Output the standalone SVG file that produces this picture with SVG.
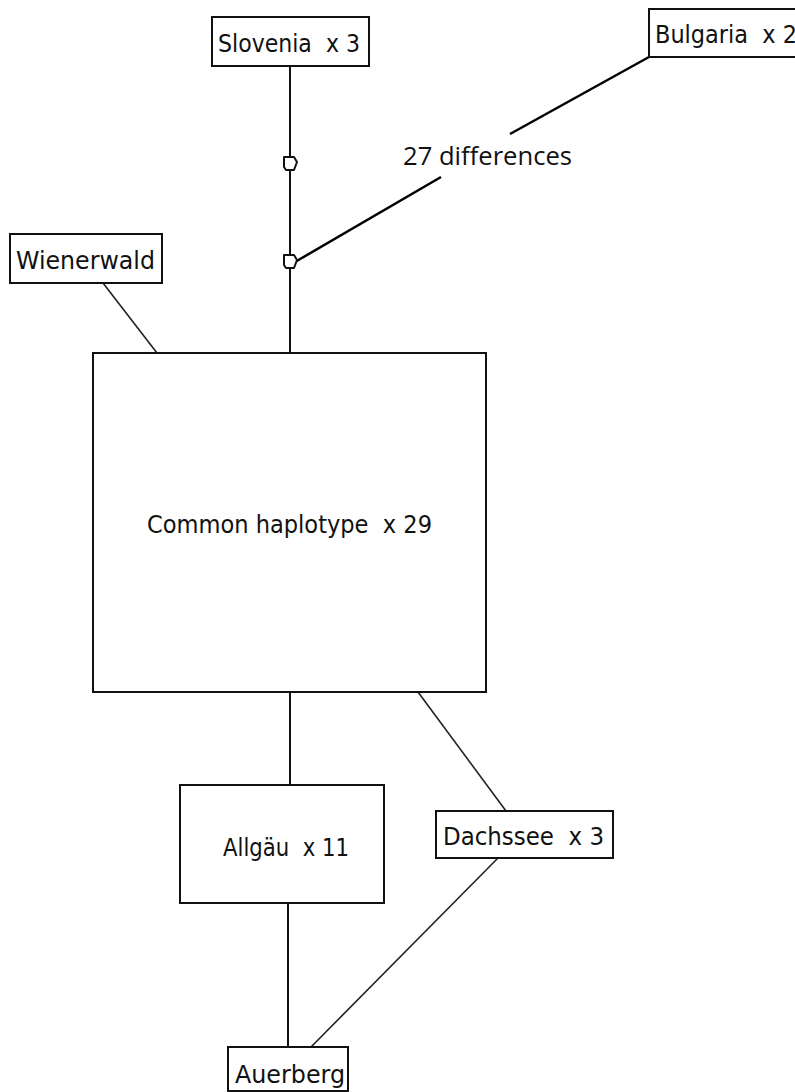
<svg xmlns="http://www.w3.org/2000/svg" width="795" height="1092" viewBox="0 0 795 1092">
<style>
.box{fill:#fff;stroke:#111;stroke-width:2}
.lbl{font-family:"DejaVu Sans",Verdana,sans-serif;font-size:24px;fill:#111;white-space:pre}
.edge{stroke:#111;stroke-width:2;fill:none}
.bold{stroke:#000;stroke-width:2.5;fill:none}
.thin{stroke:#222;stroke-width:1.6;fill:none}
.mv{fill:#fff;stroke:#111;stroke-width:2;stroke-linejoin:round}
.diff{font-family:"Open Sans","Noto Sans",sans-serif;font-size:26px;fill:#111}
</style>
<rect width="795" height="1092" fill="#fff"/>
<g id="connectors">
<line class="edge" x1="290" y1="66" x2="290" y2="353"/>
<line class="bold" x1="649" y1="57" x2="510" y2="134"/>
<line class="bold" x1="441" y1="177" x2="295" y2="262"/>
<line class="thin" x1="103" y1="283" x2="157" y2="353"/>
<line class="edge" x1="290" y1="692" x2="290" y2="785"/>
<line class="thin" x1="418" y1="692" x2="506" y2="811"/>
<line class="edge" x1="288" y1="903" x2="288" y2="1047"/>
<line class="thin" x1="498" y1="858" x2="311" y2="1047"/>
</g>
<g id="mv1"><path class="mv" d="M284,157 L294,157 L297,162 L294,170 L286,170 L284,167 Z"/></g>
<g id="mv2"><path class="mv" d="M284,255 L294,255 L297,260 L294,268 L286,268 L284,265 Z"/></g>
<g id="label-diff"><text class="diff" x="403" y="165" textLength="169" lengthAdjust="spacingAndGlyphs">27 differences</text></g>
<g id="slovenia"><rect class="box" x="212" y="17" width="157" height="49"/><text class="lbl" x="218" y="52" textLength="142" lengthAdjust="spacingAndGlyphs" xml:space="preserve">Slovenia  x 3</text></g>
<g id="bulgaria"><rect class="box" x="649" y="9" width="160" height="48"/><text class="lbl" x="655" y="43" textLength="142" lengthAdjust="spacingAndGlyphs" xml:space="preserve">Bulgaria  x 2</text></g>
<g id="wienerwald"><rect class="box" x="10" y="234" width="152" height="49"/><text class="lbl" x="16" y="269" textLength="139" lengthAdjust="spacingAndGlyphs">Wienerwald</text></g>
<g id="common"><rect class="box" x="93" y="353" width="393" height="339"/><text class="lbl" x="147" y="533" textLength="285" lengthAdjust="spacingAndGlyphs" xml:space="preserve">Common haplotype  x 29</text></g>
<g id="allgaeu"><rect class="box" x="180" y="785" width="204" height="118"/><text class="lbl" x="223" y="856" textLength="126" lengthAdjust="spacingAndGlyphs" xml:space="preserve">Allgäu  x 11</text></g>
<g id="dachssee"><rect class="box" x="436" y="811" width="177" height="47"/><text class="lbl" x="443" y="845" textLength="161" lengthAdjust="spacingAndGlyphs" xml:space="preserve">Dachssee  x 3</text></g>
<g id="auerberg"><rect class="box" x="228" y="1047" width="120" height="44"/><text class="lbl" x="235" y="1083" textLength="110" lengthAdjust="spacingAndGlyphs">Auerberg</text></g>
</svg>
